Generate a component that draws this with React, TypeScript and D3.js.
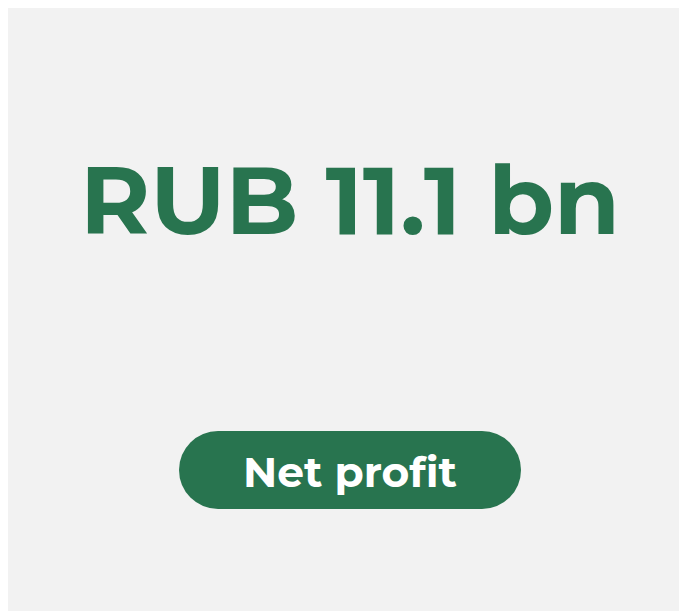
import React from "react";
import * as d3 from "d3";

const values = ["RUB 11.1 bn"];
const labels = ["Net profit"];

const W = 687;
const H = 611;
const GREEN = "#28744f";

export default function App() {
  const y = d3.scaleLinear().domain([0, 1]).range([0, H]);
  const font = "Montserrat, 'DejaVu Sans', 'Open Sans', sans-serif";
  return (
    <svg width={W} height={H} style={{ display: "block", overflow: "visible" }}>
      <rect x={0} y={0} width={W} height={H} fill="#f2f2f2" />
      {values.map((v, i) => (
        <text
          key={"v" + i}
          x={342}
          y={y(0.3699)}
          textAnchor="middle"
          fill={GREEN}
          fontFamily={font}
          fontWeight={700}
          fontSize={95}
          textLength={540}
          lengthAdjust="spacingAndGlyphs"
        >
          {v}
        </text>
      ))}
      {labels.map((l, i) => (
        <g key={"l" + i}>
          <rect x={171} y={423} width={342} height={78} rx={39} ry={39} fill={GREEN} />
          <text
            x={342}
            y={479}
            textAnchor="middle"
            fill="#ffffff"
            fontFamily={font}
            fontWeight={700}
            fontSize={42}
            textLength={214}
            lengthAdjust="spacingAndGlyphs"
          >
            {l}
          </text>
        </g>
      ))}
    </svg>
  );
}
